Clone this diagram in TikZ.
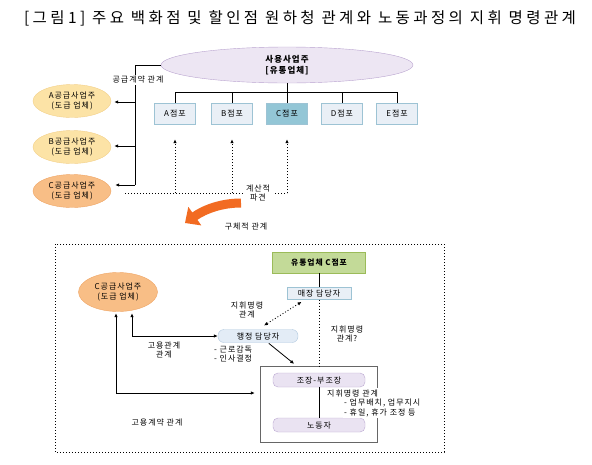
\documentclass[tikz,border=0pt]{standalone}
\usepackage{fontspec}
\setmainfont{Noto Sans CJK KR}[LetterSpace=12]
\newfontfamily\titlefont{Noto Sans CJK KR}[LetterSpace=22]
\usetikzlibrary{shapes.geometric,arrows.meta}
\definecolor{ownfill}{HTML}{EDE6F3}
\definecolor{ownline}{HTML}{B9A3CF}
\definecolor{supfill}{HTML}{FCE3A6}
\definecolor{supline}{HTML}{F3D08A}
\definecolor{csupfill}{HTML}{F8BE86}
\definecolor{csupline}{HTML}{EFA565}
\definecolor{stfill}{HTML}{E9EFF6}
\definecolor{stline}{HTML}{9DC3D4}
\definecolor{stCfill}{HTML}{93C6D6}
\definecolor{grnfill}{HTML}{C3DA98}
\definecolor{grnline}{HTML}{9BBB59}
\definecolor{admfill}{HTML}{E3ECF6}
\definecolor{admline}{HTML}{AFC7DE}
\definecolor{teamfill}{HTML}{EAE3F2}
\definecolor{teamline}{HTML}{BBA9D2}
\definecolor{arrorange}{HTML}{F26B22}
\begin{document}
\begin{tikzpicture}[x=1pt,y=-1pt,
  small/.style={font=\fontsize{8}{9.8}\selectfont},
  lbl/.style={small, align=center, inner sep=1pt},
  lbll/.style={small, align=left, inner sep=1pt, anchor=west},
  own/.style={ellipse, draw=ownline, fill=ownfill, minimum width=252pt, minimum height=36pt, font=\fontsize{8.5}{10.5}\selectfont\bfseries, align=center, inner sep=0pt},
  supl/.style={ellipse, draw=supline, fill=supfill, minimum width=78pt, minimum height=33pt, small, align=center, inner sep=0pt},
  csupl/.style={supl, draw=csupline, fill=csupfill},
  store/.style={rectangle, draw=stline, fill=stfill, minimum width=41pt, minimum height=21pt, small, inner sep=0pt},
  grnbox/.style={rectangle, draw=grnline, fill=grnfill, minimum width=93pt, minimum height=21pt, font=\fontsize{7.8}{9}\selectfont\bfseries, inner sep=0pt},
  mgrbox/.style={rectangle, draw=stline, fill=stfill, minimum width=64pt, minimum height=12pt, small, inner sep=0pt},
  admbox/.style={rectangle, rounded corners=6pt, draw=admline, fill=admfill, minimum width=80pt, minimum height=13pt, small, inner sep=0pt},
  teambox/.style={rectangle, rounded corners=5pt, draw=teamline, fill=teamfill, minimum width=92pt, minimum height=14pt, small, inner sep=0pt},
  tip/.style={-{Latex[length=4pt,width=3.5pt]}},
  tips/.style={{Latex[length=4pt,width=3.5pt]}-{Latex[length=4pt,width=3.5pt]}},
  dotln/.style={line width=0.9pt, dash pattern=on 0.9pt off 2.1pt}]
\useasboundingbox (0,0) rectangle (592,464);

% title
\node[font=\titlefont\fontsize{15.5}{17}\selectfont] (title) at (300,18) {[그림1] 주요 백화점 및 할인점 원하청 관계와 노동과정의 지휘 명령관계};

% upper part: user firm, suppliers and stores
\node[own] (own) at (287,65) {사용사업주\\[1pt][유통업체]};
\node[supl] (supA) at (72,101) {A공급사업주\\(도급 업체)};
\node[supl] (supB) at (72,147) {B공급사업주\\(도급 업체)};
\node[csupl] (supC) at (72,191) {C공급사업주\\(도급 업체)};
\coordinate (jT) at (135,65);
\coordinate (jA) at (135,102);
\coordinate (jB) at (135,146);
\coordinate (jC) at (135,185);
\draw[line width=0.8pt](own.west) -- (jT) -- (jC);
\draw[tip, line width=0.8pt, shorten >=3pt](jA) -- (supA.east |- jA);
\draw[tip, line width=0.8pt, shorten >=3pt](jB) -- (supB.east |- jB);
\draw[tip, line width=0.8pt, shorten >=4pt](jC) -- (supC.east |- jC);
\node[lbl, fill=white] (supply) at (138,80) {공급계약 관계};

\node[store] (st1) at (175,113.5) {A점포};
\node[store] (st2) at (232,113.5) {B점포};
\node[store, fill=stCfill] (st3) at (287,113.5) {C점포};
\node[store] (st4) at (342,113.5) {D점포};
\node[store] (st5) at (397,113.5) {E점포};
\coordinate (bus) at (287,92);
\draw[line width=0.8pt](own.south) -- (st3.north);
\draw[line width=0.8pt](st1.north) |- (bus -| st5) -- (st5.north);
\draw[line width=0.8pt](st2.north) -- (st2.north |- bus);
\draw[line width=0.8pt](st4.north) -- (st4.north |- bus);

% dispatch
\coordinate (dsp) at (125,193);
\draw[dotln](dsp) -- (dsp -| st3);
\draw[dotln, tip, shorten >=15pt](dsp -| st1) -- (st1.south);
\draw[dotln, tip, shorten >=15pt](dsp -| st2) -- (st2.south);
\draw[dotln, tip, shorten >=15pt](dsp -| st3) -- (st3.south);
\node[lbl, fill=white, inner sep=3pt] (dspl) at (258,193) {계산적\\파견};

% concrete relation
\draw[arrorange, line width=9pt, -{Triangle[length=12pt,width=22pt]}] (241,203) .. controls (222,203) and (205,209) .. (185,223);
\node[lbl] (conc) at (246,227) {구체적 관계};

% lower part
\draw[dotln](55,244) rectangle (444,452);
\node[grnbox] (grn) at (319,262.5) {유통업체 C점포};
\node[mgrbox] (mgr) at (319,293.5) {매장 담당자};
\node[admbox] (adm) at (258,336) {행정 담당자};
\node[csupl, minimum width=79pt, minimum height=39pt] (csup) at (118,292) {C공급사업주\\(도급 업체)};
\node[draw=black!60, fill=white, minimum width=117pt, minimum height=76pt] (team) at (318.5,404) {};
\node[teambox] (lead) at (319,380) {조장-부조장};
\node[teambox] (wrk) at (319,425) {노동자};

\draw[line width=0.8pt](grn) -- (mgr);
\draw[dotln](mgr) -- (mgr |- team.north);
\draw[dotln, tips, shorten <=4pt, shorten >=7pt]([xshift=-14pt]mgr.south) -- (adm.north);
\draw[tip, line width=0.8pt, shorten <=1pt, shorten >=3pt]([xshift=10pt]adm.south) -- ([xshift=-22pt]team.north);
\draw[line width=0.8pt](lead) -- (wrk);

\coordinate (e1) at (132,336);
\coordinate (e2) at (116,393);
\draw[tips, line width=0.8pt, shorten >=1.5pt](adm.west) -- (e1) -- (csup.south -| e1);
\draw[tips, line width=0.8pt, shorten <=1.5pt, shorten >=5pt](csup.south -| e2) -- (e2) -- (e2 -| team.west);

\node[lbl] (cmd1) at (247,310) {지휘명령\\관계};
\node[lbl] (cmd2) at (347,334) {지휘명령\\관계?};
\node[lbll] (adml) at (213,354) {- 근로감독\\- 인사결정};
\node[lbl] (emp1) at (164,350) {고용관계\\관계};
\node[lbl] (emp2) at (157,422) {고용계약 관계};
\node[lbll, fill=white] (cmd3) at (326,393) {지휘명령 관계};
\node[lbll, fill=white] (cmd3a) at (343,408) {- 업무배치, 업무지시\\- 휴일, 휴가 조정 등};
\end{tikzpicture}
\end{document}
